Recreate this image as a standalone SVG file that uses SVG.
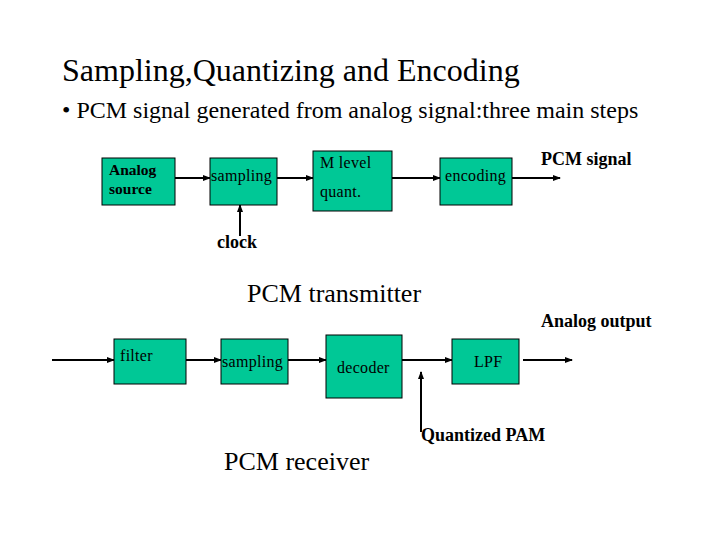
<svg xmlns="http://www.w3.org/2000/svg" width="720" height="540" viewBox="0 0 720 540">
<style>
text{font-family:"Liberation Serif","Times New Roman",serif;fill:#000}
.b{fill:#00c896;stroke:#000;stroke-width:1}
.l{stroke:#000;stroke-width:2;fill:none;marker-end:url(#a)}
.s{font-size:16px;letter-spacing:0.3px}
.bd{font-size:18px;font-weight:bold}
.bs{font-size:15.5px;font-weight:bold}
</style>
<defs><marker id="a" markerWidth="8" markerHeight="8" refX="7" refY="4" orient="auto" markerUnits="userSpaceOnUse"><path d="M0,1 L8,4 L0,7z" fill="#000"/></marker></defs>
<rect width="720" height="540" fill="#fff"/>
<text x="62" y="81" font-size="32">Sampling,Quantizing and Encoding</text>
<text x="62" y="118" font-size="24">•  PCM signal generated from analog signal:three main steps</text>
<g id="connectors">
<line class="l" x1="175" y1="178" x2="210" y2="178"/>
<line class="l" x1="277" y1="178" x2="313" y2="178"/>
<line class="l" x1="392" y1="178" x2="440" y2="178"/>
<line class="l" x1="512" y1="178" x2="560" y2="178"/>
<line class="l" x1="240" y1="236" x2="240" y2="205"/>
<line class="l" x1="52" y1="360" x2="114" y2="360"/>
<line class="l" x1="186" y1="360" x2="221" y2="360"/>
<line class="l" x1="288" y1="360" x2="326" y2="360"/>
<line class="l" x1="402" y1="360" x2="452" y2="360"/>
<line class="l" x1="523" y1="360" x2="572" y2="360"/>
<line class="l" x1="421" y1="432" x2="421" y2="372"/>
</g>
<g id="analog"><rect class="b" x="102" y="158" width="73" height="47"/><text class="bs" x="109" y="175">Analog</text><text class="bs" x="109" y="194">source</text></g>
<g id="sampling1"><rect class="b" x="210" y="158" width="67" height="47"/><text class="s" x="211" y="181">sampling</text></g>
<g id="quant"><rect class="b" x="313" y="151" width="79" height="60"/><text class="s" x="320" y="168">M level</text><text class="s" x="320" y="197">quant.</text></g>
<g id="encoding"><rect class="b" x="440" y="158" width="72" height="47"/><text class="s" x="445" y="181">encoding</text></g>
<text class="bd" x="541" y="165">PCM signal</text>
<text class="bd" x="217" y="248">clock</text>
<text x="247" y="302" font-size="26">PCM transmitter</text>
<text class="bd" x="541" y="327">Analog output</text>
<g id="filter"><rect class="b" x="114" y="339" width="72" height="45"/><text class="s" x="120" y="361">filter</text></g>
<g id="sampling2"><rect class="b" x="221" y="339" width="67" height="45"/><text class="s" x="222" y="367">sampling</text></g>
<g id="decoder"><rect class="b" x="326" y="335" width="76" height="63"/><text class="s" x="337" y="373">decoder</text></g>
<g id="lpf"><rect class="b" x="452" y="339" width="67" height="45"/><text class="s" x="474" y="367">LPF</text></g>
<text class="bd" x="421" y="441">Quantized PAM</text>
<text x="224" y="470" font-size="26">PCM receiver</text>
</svg>
